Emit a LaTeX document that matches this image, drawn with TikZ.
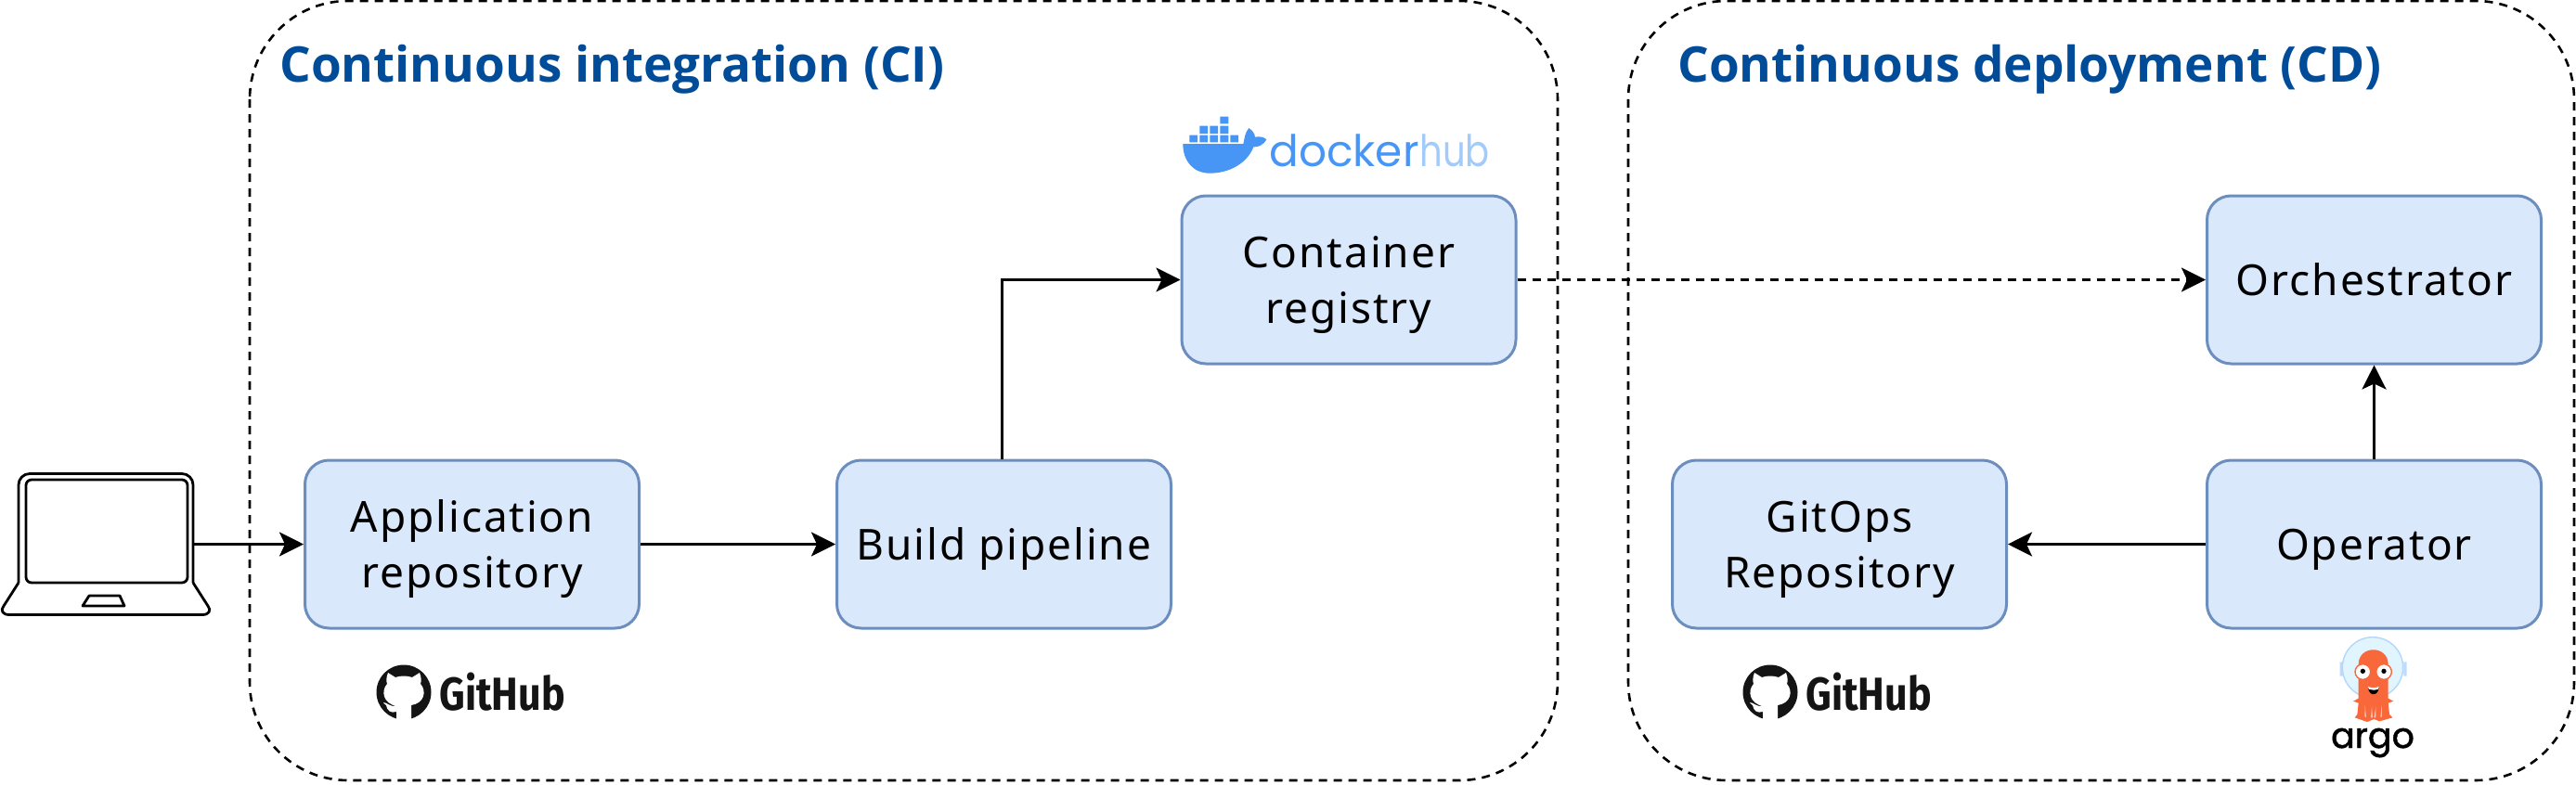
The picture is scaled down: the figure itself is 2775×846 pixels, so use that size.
\documentclass[tikz,border=0pt]{standalone}
\usepackage{fontspec}
\setmainfont{Noto Sans}
\newfontfamily\boxfont[LetterSpace=4.1]{Noto Sans}
\newfontfamily\titlefont{Open Sans}
\newfontfamily\logofont{Poppins}
\newfontfamily\hubword[FakeStretch=0.82]{Poppins}
\newfontfamily\argofont[FakeBold=1.2]{Poppins}
\newfontfamily\hubfont[FakeStretch=0.86]{Fira Sans}
\usetikzlibrary{arrows.meta,calc}
\definecolor{boxfill}{HTML}{DAE8FC}
\definecolor{boxline}{HTML}{6C8EBF}
\definecolor{titleblue}{HTML}{004C99}
\definecolor{dockerblue}{HTML}{4796F5}
\definecolor{hublight}{HTML}{A3CBFA}
\definecolor{argoorange}{HTML}{F9683A}
\newcommand{\lowered}[1]{\vbox{\kern4.5pt\hbox{\begin{tabular}{@{}c@{}}#1\end{tabular}}}}
\tikzset{
  stagebox/.style={draw=boxline,fill=boxfill,line width=1.5pt,rounded corners=13pt,minimum width=180pt,minimum height=90.5pt,inner sep=0pt,font=\boxfont\fontsize{23}{30}\selectfont},
  groupbox/.style={draw=black,line width=1.3pt,dash pattern=on 4.5pt off 3.5pt,rounded corners=53pt},
  grouptitle/.style={anchor=base west,inner sep=0pt,text=titleblue,font=\titlefont\bfseries\fontsize{26.5}{30}\selectfont},
  flow/.style={draw=black,line width=1.5pt,-{Stealth[length=13pt,width=13pt,inset=3pt]}},
  flowdash/.style={flow,dash pattern=on 4.5pt off 3.5pt},
  ghtext/.style={anchor=base west,inner sep=0pt,text=black!92,font=\hubfont\bfseries\fontsize{25}{25}\selectfont},
}
\newcommand{\ghmark}[1]{%
  \begin{scope}[shift={#1}]
    \fill[black!92] (0,0) circle (29.5);
    \fill[white] (-17,-21) -- (-9,-16) .. controls (-4,-18) and (4,-18) .. (9,-16) -- (17,-21)
      .. controls (19,-16) and (19,-12) .. (18,-9) .. controls (25,-1) and (22,12) .. (8,14)
      -- (8,30) -- (-8,30) -- (-8,21) .. controls (-14,23) and (-18,20) .. (-19,14)
      .. controls (-20,13) and (-22,12) .. (-22,11) .. controls (-18,11) and (-15,16) .. (-8,15)
      .. controls (-22,12) and (-25,-1) .. (-18,-9) .. controls (-19,-12) and (-19,-16) .. (-17,-21) -- cycle;
  \end{scope}}
\begin{document}
\begin{tikzpicture}[x=0.5pt,y=-0.5pt]
\useasboundingbox (0,0) rectangle (2775,846);
% groups
\draw[groupbox] (269,1) rectangle (1678,841);
\draw[groupbox] (1754,1) rectangle (2773,841);
\node[grouptitle] (cititle) at (301,88) {Continuous integration (CI)};
\node[grouptitle] (cdtitle) at (1807,88) {Continuous deployment (CD)};
% boxes
\node[stagebox] (app) at (508.5,586.5) {\lowered{Application\\repository}};
\node[stagebox] (build) at (1081.5,586.5) {\lowered{Build pipeline}};
\node[stagebox] (reg) at (1453,301.5) {\lowered{Container\\registry}};
\node[stagebox] (gitops) at (1981.5,586.5) {\lowered{GitOps\\Repository}};
\node[stagebox] (oper) at (2557.5,586.5) {\lowered{Operator}};
\node[stagebox] (orch) at (2557.5,301.5) {\lowered{Orchestrator}};
% laptop
\node[minimum width=94pt,minimum height=76.5pt,inner sep=0pt] (laptop) at (114,586.5) {};
\begin{scope}[line width=1.4pt,draw=black,line join=round]
  \draw[rounded corners=6pt] (20,628) -- (20,510.5) -- (208,510.5) -- (208,628);
  \draw[rounded corners=3pt] (28,628) -- (28,517) -- (202,517) -- (202,628) -- cycle;
  \draw (20,628) -- (4,653) .. controls (0,658) and (3,662.5) .. (10,662.5) -- (218,662.5) .. controls (225,662.5) and (228,658) .. (224,653) -- (208,628);
  \draw (96,642) -- (129,642) -- (134,653) -- (89,653) -- cycle;
\end{scope}
% connectors
\draw[flow] (laptop.east) -- (app.west);
\draw[flow] (app.east) -- (build.west);
\draw[flow] ([xshift=-1.25pt]build.north) |- (reg.west);
\draw[flowdash] (reg.east) -- (orch.west);
\draw[flow] (oper.north) -- (orch.south);
\draw[flow] (oper.west) -- (gitops.east);
% github logos
\ghmark{(435,746)}
\node[ghtext] (gh1) at (473,765) {GitHub};
\ghmark{(1907,746)}
\node[ghtext] (gh2) at (1945,765) {GitHub};
% docker logo
\begin{scope}[shift={(1240,100)},x=0.16667pt,y=-0.16667pt]
  \fill[dockerblue] (124,137) rectangle (150,160) (157,137) rectangle (183,160) (190,137) rectangle (216,160) (223,137) rectangle (250,160) (256,137) rectangle (282,160)
    (157,107) rectangle (183,132) (190,107) rectangle (216,132) (223,107) rectangle (250,132) (223,77) rectangle (250,100);
  \fill[dockerblue] (103,165) -- (298,165) .. controls (302,150) and (302,130) .. (316,114)
    .. controls (328,122) and (335,132) .. (336,143) .. controls (350,140) and (365,143) .. (373,151)
    .. controls (362,170) and (345,176) .. (331,175) .. controls (310,230) and (250,260) .. (190,260)
    .. controls (135,260) and (103,220) .. (103,165) -- cycle;
\end{scope}
\node[anchor=base west,inner sep=0pt,text=dockerblue,font=\logofont\fontsize{23.5}{24}\selectfont] (dk) at (1367,179) {docker};
\node[anchor=base west,inner sep=0pt,text=hublight,font=\hubword\fontsize{23.5}{24}\selectfont] (hub) at (1529,179) {hub};
% argo logo
\begin{scope}[shift={(2440,660)},x=0.16667pt,y=-0.16667pt]
  \fill[hublight!70] (242,160) rectangle (252,206) (448,160) rectangle (458,206);
  \draw[draw=hublight!80,fill=cyan!12,line width=0.7pt] (348,178) circle[radius=98];
  \fill[argoorange] (302,300) -- (302,168) .. controls (302,105) and (398,105) .. (398,168) -- (398,278)
    -- (415,287) -- (398,293) -- (402,330) -- (412,340) -- (370,352) -- (352,345) -- (330,354) -- (290,340) -- (298,330) -- (302,293) -- (285,287) -- (302,278) -- cycle;
  \fill[white!60!argoorange] (323,300) -- (327,338) -- (322,338) -- cycle (377,300) -- (373,338) -- (378,338) -- cycle (345,305) -- (348,340) -- (342,340) -- cycle (358,305) -- (352,340) -- (358,340) -- cycle;
  \draw[argoorange,fill=white,line width=0.7pt] (316,192) circle[radius=25] (384,192) circle[radius=25];
  \fill[black] (316,190) circle[radius=8] (384,190) circle[radius=8];
  \fill[black] (333,243) .. controls (345,248) and (355,248) .. (368,243) .. controls (365,272) and (336,272) .. (333,243) -- cycle;
  \fill[white] (333,240) .. controls (345,245) and (355,245) .. (368,240) -- (366,248) .. controls (355,252) and (345,252) .. (335,248) -- cycle;
\end{scope}
\node[anchor=base,inner sep=0pt,text=black,font=\argofont\fontsize{19}{19}\selectfont] (argo) at (2556,806) {argo};
\end{tikzpicture}
\end{document}
